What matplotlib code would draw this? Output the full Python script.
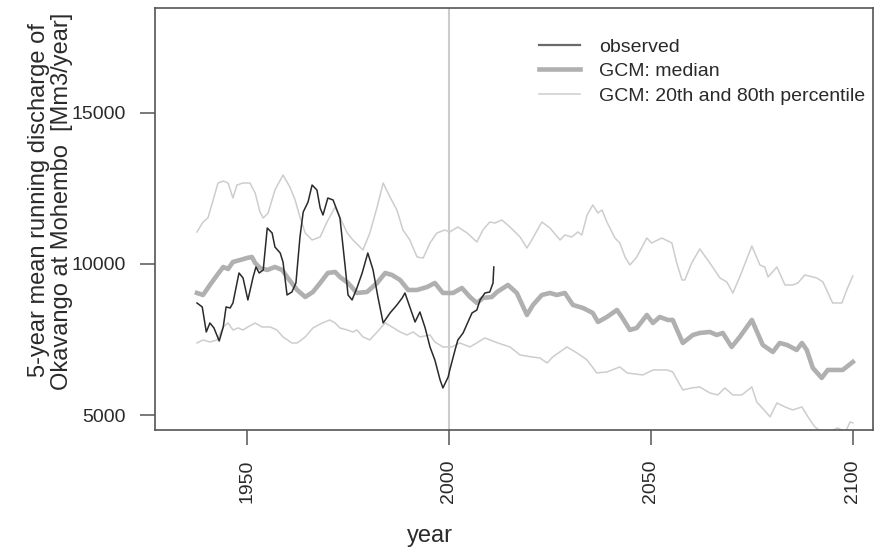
import matplotlib
matplotlib.use("Agg")
import matplotlib.pyplot as plt
from matplotlib.lines import Line2D

plt.rcParams['font.family'] = ['Liberation Sans', 'DejaVu Sans']

# observed 5-year running mean discharge [Mm3/year]
obsYears = [1937.6, 1938.9, 1939.9, 1940.8, 1941.8, 1943.1, 1944.1, 1944.8, 1945.8,
            1946.5, 1948.0, 1949.0, 1950.2, 1951.5, 1952.2, 1953.0, 1954.0, 1955.0,
            1956.2, 1956.9, 1958.2, 1958.9, 1959.9, 1961.1, 1962.1, 1963.1, 1963.9,
            1965.1, 1966.1, 1967.3, 1968.1, 1968.8, 1970.0, 1971.3, 1973.0, 1974.3,
            1975.0, 1976.0, 1977.2, 1978.5, 1979.9, 1981.2, 1982.4, 1983.7, 1985.4,
            1987.1, 1988.4, 1989.1, 1990.3, 1991.6, 1992.8, 1994.1, 1995.3, 1996.5,
            1997.8, 1998.5, 1999.8, 2000.2, 2001.5, 2002.2, 2003.5, 2004.7, 2005.7,
            2006.9, 2007.7, 2008.9, 2010.1, 2010.9, 2011.1]
obsValues = [8713, 8581, 7756, 8053, 7888, 7459, 7921, 8581, 8548,
             8713, 9703, 9538, 8812, 9571, 9901, 9703, 9802, 11188,
             11023, 10561, 10363, 10066, 8977, 9076, 9373, 10891, 11716,
             12046, 12607, 12442, 11848, 11617, 12178, 12112, 11518, 9901,
             8977, 8812, 9208, 9703, 10363, 9802, 8911, 8053, 8383,
             8647, 8878, 9043, 8581, 8086, 8416, 7888, 7261, 6832,
             6172, 5908, 6271, 6502, 7162, 7492, 7723, 8086, 8383,
             8482, 8812, 9043, 9076, 9373, 9901]

# GCM ensemble median
medYears = [1937.6, 1939.1, 1940.8, 1942.6, 1944.1, 1945.3, 1946.5, 1948.3, 1950.0,
            1951.2, 1952.0, 1953.2, 1955.0, 1956.9, 1958.7, 1960.1, 1962.4, 1964.4,
            1966.3, 1968.1, 1970.0, 1971.8, 1973.0, 1975.0, 1977.2, 1979.7, 1982.2,
            1984.2, 1985.9, 1987.9, 1989.9, 1992.1, 1994.6, 1996.5, 1998.5, 2001.0,
            2003.2, 2005.2, 2006.9, 2008.4, 2010.6, 2011.9, 2014.6, 2016.8, 2019.3,
            2020.8, 2023.0, 2025.0, 2026.7, 2028.7, 2030.7, 2033.2, 2035.6, 2036.9,
            2039.1, 2041.6, 2042.8, 2044.8, 2046.5, 2049.0, 2050.5, 2052.2, 2054.2,
            2055.4, 2057.9, 2060.4, 2062.1, 2064.6, 2066.3, 2067.8, 2070.0, 2072.0,
            2075.0, 2077.7, 2080.2, 2081.9, 2083.7, 2086.1, 2087.4, 2088.6, 2090.1,
            2092.3, 2093.8, 2097.5, 2100.0]
medValues = [9043, 8977, 9307, 9637, 9901, 9835, 10066, 10132, 10198,
             10231, 10033, 9868, 9802, 9901, 9802, 9538, 9142, 8911,
             9076, 9373, 9703, 9736, 9571, 9373, 9043, 9076, 9373,
             9703, 9637, 9472, 9142, 9142, 9241, 9373, 9043, 9043,
             9208, 8911, 8713, 8878, 8911, 9076, 9307, 9043, 8317,
             8647, 8977, 9043, 8977, 9043, 8647, 8548, 8383, 8086,
             8251, 8482, 8251, 7822, 7888, 8317, 8053, 8251, 8152,
             8152, 7393, 7657, 7723, 7756, 7657, 7723, 7261, 7591,
             8152, 7327, 7096, 7393, 7327, 7162, 7393, 7162, 6568,
             6238, 6502, 6502, 6766]

# GCM ensemble 80th percentile
p80Years = [1937.6, 1939.1, 1940.3, 1941.6, 1942.8, 1944.1, 1945.3, 1946.5, 1947.5,
            1949.0, 1950.7, 1952.0, 1953.2, 1954.0, 1955.2, 1956.9, 1958.9, 1960.6,
            1961.9, 1963.1, 1964.4, 1966.1, 1968.1, 1969.8, 1971.8, 1974.8, 1976.2,
            1978.7, 1980.4, 1982.2, 1983.7, 1985.4, 1987.1, 1988.6, 1990.3, 1992.1,
            1993.6, 1995.3, 1997.0, 1999.0, 2000.2, 2002.2, 2004.5, 2006.9, 2008.4,
            2010.1, 2011.4, 2013.1, 2015.1, 2017.6, 2019.3, 2020.5, 2023.0, 2025.0,
            2027.5, 2028.7, 2030.4, 2031.9, 2032.9, 2034.2, 2035.6, 2036.9, 2037.9,
            2039.1, 2041.1, 2042.3, 2043.6, 2044.8, 2046.5, 2049.0, 2050.2, 2052.7,
            2055.2, 2056.4, 2057.7, 2058.4, 2060.1, 2062.1, 2064.6, 2067.1, 2068.8,
            2070.3, 2072.0, 2075.0, 2077.0, 2078.2, 2079.0, 2081.2, 2083.2, 2085.1,
            2086.4, 2088.1, 2091.1, 2092.6, 2095.0, 2097.3, 2098.5, 2100.0]
p80Values = [11056, 11386, 11518, 12112, 12673, 12739, 12673, 12178, 12607,
             12673, 12673, 12343, 11716, 11518, 11683, 12442, 12937, 12541,
             12112, 11551, 11023, 10792, 10891, 11386, 11881, 11023, 10792,
             10462, 11023, 11881, 12673, 12211, 11782, 11122, 10792, 10231,
             10198, 10693, 11023, 11122, 11056, 11221, 11023, 10726, 11122,
             11386, 11353, 11452, 11221, 10891, 10528, 10792, 11386, 11188,
             10792, 10957, 10891, 11056, 10957, 11617, 11947, 11683, 11782,
             11386, 10858, 10693, 10231, 9967, 10231, 10858, 10693, 10858,
             10693, 10033, 9472, 9472, 10033, 10495, 10033, 9538, 9406,
             9043, 9571, 10594, 9967, 9901, 9571, 9901, 9307, 9307,
             9373, 9637, 9538, 9406, 8713, 8713, 9142, 9604]

# GCM ensemble 20th percentile
p20Years = [1937.6, 1939.1, 1940.8, 1942.6, 1944.1, 1945.3, 1946.5, 1947.8, 1949.0,
            1950.2, 1952.0, 1953.7, 1955.7, 1957.4, 1958.9, 1961.1, 1962.4, 1964.4,
            1966.3, 1968.6, 1970.5, 1971.8, 1973.0, 1974.8, 1976.2, 1977.2, 1978.7,
            1980.4, 1982.2, 1984.2, 1985.9, 1987.9, 1989.6, 1991.1, 1992.8, 1995.3,
            1996.5, 1998.5, 2000.7, 2002.7, 2005.2, 2008.9, 2012.1, 2015.1, 2017.6,
            2020.5, 2022.5, 2024.3, 2025.7, 2029.2, 2031.7, 2034.2, 2036.6, 2039.1,
            2042.3, 2044.1, 2048.0, 2050.5, 2054.0, 2055.4, 2057.9, 2060.1, 2062.1,
            2064.6, 2066.6, 2068.3, 2070.3, 2072.5, 2075.0, 2076.2, 2078.7, 2079.5,
            2081.2, 2083.2, 2085.1, 2087.4, 2088.9, 2090.6, 2092.3, 2094.3, 2096.2,
            2098.2, 2099.3, 2100.0]
p20Values = [7393, 7492, 7426, 7492, 7921, 8053, 7822, 7888, 7822,
             7921, 8053, 7921, 7921, 7822, 7591, 7393, 7393, 7591,
             7888, 8053, 8152, 8053, 7888, 7822, 7756, 7822, 7591,
             7492, 7756, 8053, 7921, 7756, 7657, 7756, 7591, 7657,
             7426, 7261, 7261, 7393, 7261, 7558, 7393, 7261, 6997,
             6931, 6898, 6733, 6931, 7261, 7063, 6832, 6403, 6436,
             6601, 6403, 6337, 6502, 6502, 6436, 5842, 5908, 5941,
             5743, 5677, 5908, 5677, 5677, 5941, 5446, 5083, 4951,
             5413, 5281, 5182, 5281, 4951, 4621, 4456, 4456, 4588,
             4456, 4786, 4753]

yearTicks = [1950, 2000, 2050, 2100]
dischargeTicks = [5000, 10000, 15000]

textColor = "#2a2a2a"
obsColor = "#2a2a2a"
medColor = "#b0b0b0"
pctColor = "#cdcdcd"

fig = plt.figure(figsize=(8.75, 5.52), dpi=100)
ax = fig.add_axes([155 / 875, 1 - 430 / 552, 718 / 875, 422 / 552])

ax.axvline(2000, color="#cccccc", lw=1.5, zorder=1)
ax.plot(p80Years, p80Values, color=pctColor, lw=1.1, zorder=2)
ax.plot(p20Years, p20Values, color=pctColor, lw=1.1, zorder=2)
ax.plot(medYears, medValues, color=medColor, lw=3.3, zorder=3)
ax.plot(obsYears, obsValues, color=obsColor, lw=1.1, zorder=4)

ax.set_xlim(1927.2, 2105.0)
ax.set_ylim(4520, 18450)
ax.set_xticks(yearTicks)
ax.set_yticks(dischargeTicks)
ax.tick_params(axis="x", labelrotation=90, length=11, width=1.1, pad=10.5,
               labelsize=14, colors="#555555", labelcolor=textColor)
ax.tick_params(axis="y", length=11, width=1.1, pad=10,
               labelsize=14, colors="#555555", labelcolor=textColor)
for side in ax.spines.values():
    side.set_color("#555555")
    side.set_linewidth(1.2)

fig.text(430 / 875, 1 - 536 / 552, "year", ha="center", va="center",
         fontsize=17, color=textColor)
fig.text(39 / 875, 1 - 200 / 552, "5-year mean running discharge of",
         rotation=90, ha="center", va="center", fontsize=17, color=textColor)
fig.text(62 / 875, 1 - 201 / 552, "Okavango at Mohembo  [Mm3/year]",
         rotation=90, ha="center", va="center", fontsize=17, color=textColor)

handles = [Line2D([], [], color="#6a6a6a", lw=1.6),
           Line2D([], [], color=medColor, lw=3.3),
           Line2D([], [], color=pctColor, lw=1.1)]
labels = ["observed", "GCM: median", "GCM: 20th and 80th percentile"]
fig.legend(handles, labels, loc="upper left",
           bbox_to_anchor=(539 / 875, 1 - 38 / 552), frameon=False,
           fontsize=14, handlelength=2.1, handletextpad=1.0,
           labelspacing=0.36, borderpad=0, borderaxespad=0,
           labelcolor=textColor)

fig.savefig("out.png", dpi=100)
